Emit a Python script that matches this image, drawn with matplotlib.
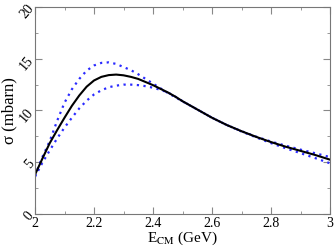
import matplotlib
matplotlib.use("Agg")
import matplotlib.pyplot as plt
from matplotlib.ticker import MultipleLocator

# energia (GeV) e secoes de choque (mbarn)
e_cm = [2.000, 2.025, 2.050, 2.075, 2.100, 2.125, 2.150, 2.175, 2.200, 2.225,
        2.250, 2.275, 2.300, 2.325, 2.350, 2.375, 2.400, 2.425, 2.450, 2.475,
        2.500, 2.55, 2.60, 2.65, 2.70, 2.75, 2.80, 2.85, 2.90, 2.95, 3.00]
sigma_central = [3.8, 5.35, 6.85, 8.1, 9.3, 10.45, 11.45, 12.3, 12.9, 13.25,
                 13.42, 13.47, 13.4, 13.25, 13.05, 12.75, 12.45, 12.1, 11.75, 11.35,
                 10.9, 10.1, 9.3, 8.6, 8.0, 7.45, 6.95, 6.5, 6.1, 5.7, 5.25]
sigma_upper = [3.7, 5.5, 7.05, 9.0, 10.75, 12.05, 13.05, 13.85, 14.35, 14.6,
               14.65, 14.5, 14.2, 13.9, 13.5, 13.05, 12.6, 12.15, 11.7, 11.3,
               10.88, 10.1, 9.3, 8.6, 8.0, 7.47, 7.0, 6.6, 6.22, 5.87, 5.5]
sigma_lower = [3.6, 4.95, 6.15, 7.3, 8.35, 9.3, 10.2, 10.95, 11.55, 11.95,
               12.25, 12.4, 12.5, 12.5, 12.45, 12.35, 12.2, 12.0, 11.75, 11.35,
               10.9, 10.1, 9.3, 8.6, 7.97, 7.4, 6.85, 6.35, 5.88, 5.4, 4.9]

plt.rcParams["font.family"] = ["Liberation Serif", "DejaVu Serif"]
plt.rcParams["mathtext.fontset"] = "stix"

fig = plt.figure(figsize=(3.34, 2.47), dpi=100)
ax = fig.add_axes([35 / 334, 1 - 214 / 247, 295 / 334, 207 / 247])

ax.plot(e_cm, sigma_upper, linestyle=(0, (1, 2)), color="#2a2aff", lw=1.6)
ax.plot(e_cm, sigma_lower, linestyle=(0, (1, 2)), color="#2a2aff", lw=1.6)
ax.plot(e_cm, sigma_central, color="black", lw=1.5)

ax.set_xlim(2, 3)
ax.set_ylim(0, 20)
ax.xaxis.set_minor_locator(MultipleLocator(0.1))
ax.yaxis.set_major_locator(MultipleLocator(5))
ax.yaxis.set_minor_locator(MultipleLocator(2.5))
ax.set_xticks([2, 2.2, 2.4, 2.6, 2.8, 3])
ax.set_xticklabels(["2", "2.2", "2.4", "2.6", "2.8", "3"])

ax.tick_params(which="both", direction="in", top=True, right=True,
               color="#888888", labelsize=10)
ax.tick_params(axis="x", pad=2)
ax.tick_params(axis="y", pad=-1)
ax.tick_params(which="major", length=5)
ax.tick_params(which="minor", length=2.5)
for lbl in ax.get_yticklabels():
    lbl.set_rotation(50)
for sp in ax.spines.values():
    sp.set_color("#777777")

ax.set_xlabel(r"E$_{\rm CM}$ (GeV)", fontsize=11, labelpad=0)
ax.set_ylabel("σ (mbarn)", fontsize=12)
ax.yaxis.set_label_coords(-0.058, 0.5)

fig.savefig("out.png", dpi=100)
